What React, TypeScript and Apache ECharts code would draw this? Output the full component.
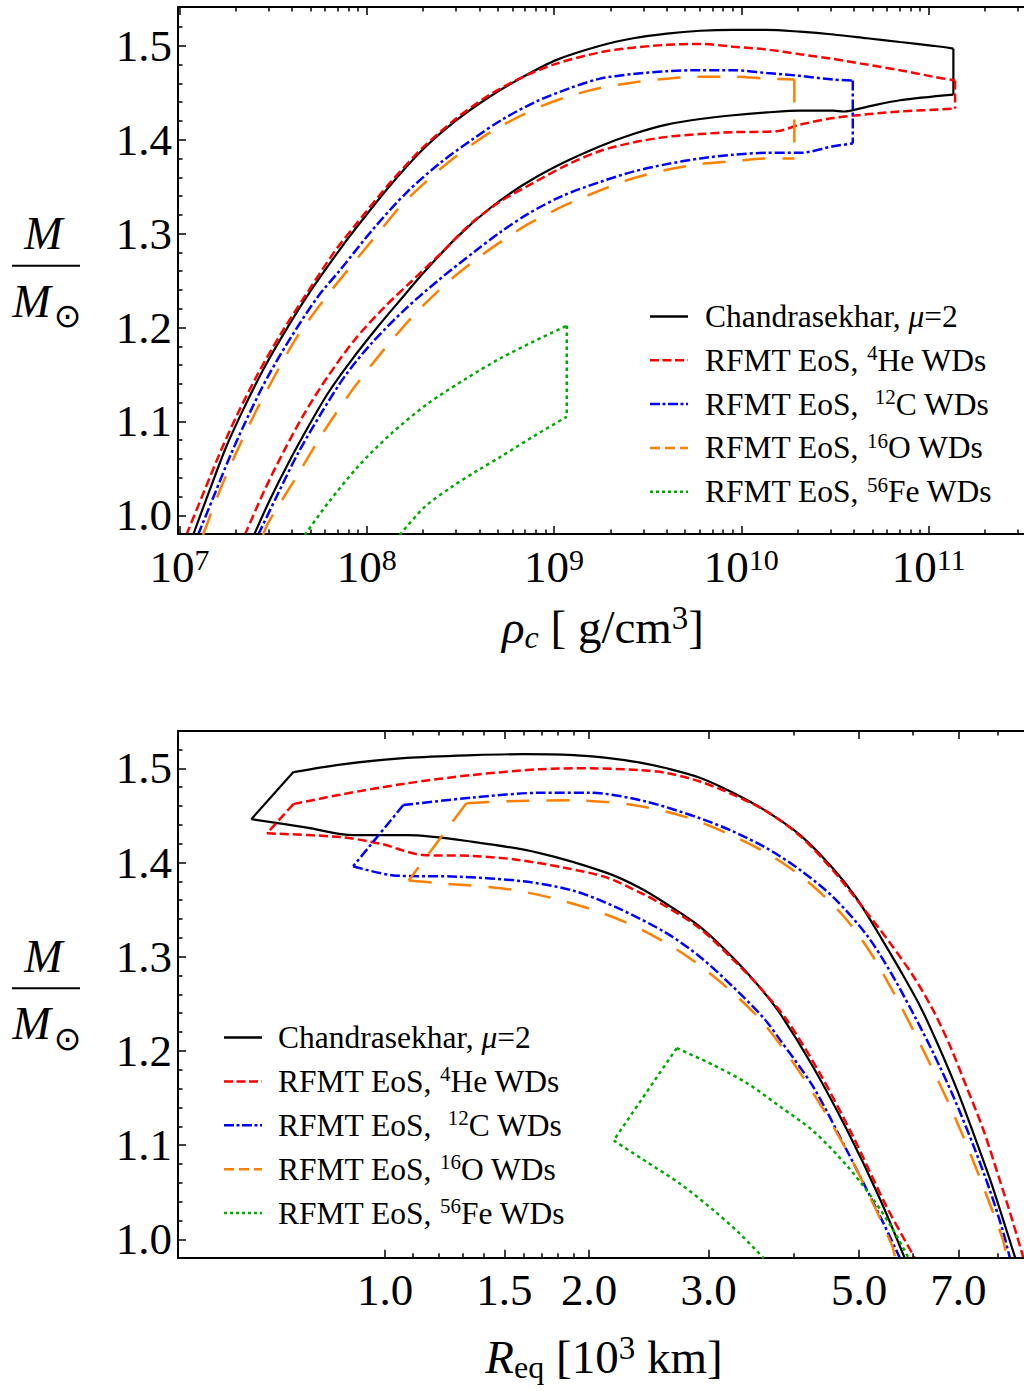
import React, { useEffect, useRef } from "react";
import * as echarts from "echarts";

const FONT = "Liberation Serif, Times New Roman, serif";

// ---------- Top panel: [log10(rho_c / g cm^-3), M/Msun] ----------
const chandraUpperRho = [
  [7.073, 0.979], [7.162, 1.027], [7.25, 1.073], [7.349, 1.116], [7.455, 1.158], [7.58, 1.201],
  [7.704, 1.24], [7.856, 1.283], [7.947, 1.307], [8.124, 1.351], [8.302, 1.39], [8.481, 1.421],
  [8.658, 1.446], [8.836, 1.467], [9.014, 1.485], [9.246, 1.5], [9.423, 1.508], [9.602, 1.513],
  [9.78, 1.516], [9.957, 1.517], [10.136, 1.517], [10.313, 1.515], [10.491, 1.512], [10.67, 1.508],
  [10.847, 1.504], [11.025, 1.5], [11.132, 1.497],
];
const chandraLowerRho = [
  [7.398, 0.979], [7.482, 1.016], [7.58, 1.055], [7.687, 1.094], [7.793, 1.13], [7.918, 1.165],
  [8.06, 1.201], [8.178, 1.229], [8.302, 1.258], [8.481, 1.296], [8.658, 1.327], [8.836, 1.352],
  [9.014, 1.372], [9.246, 1.393], [9.423, 1.406], [9.602, 1.416], [9.78, 1.422], [9.957, 1.426],
  [10.136, 1.429], [10.313, 1.431], [10.491, 1.431], [10.545, 1.43], [10.67, 1.435], [10.847, 1.442],
  [11.132, 1.448],
];
const heUpperRho = [
  [7.037, 0.979], [7.135, 1.027], [7.224, 1.07], [7.313, 1.109], [7.42, 1.151], [7.544, 1.194],
  [7.669, 1.233], [7.829, 1.281], [7.947, 1.311], [8.124, 1.354], [8.302, 1.392], [8.481, 1.423],
  [8.658, 1.448], [8.836, 1.467], [9.014, 1.481], [9.246, 1.493], [9.423, 1.498], [9.602, 1.501],
  [9.78, 1.502], [9.957, 1.499], [10.136, 1.496], [10.313, 1.491], [10.491, 1.486], [10.67, 1.48],
  [10.847, 1.474], [11.025, 1.467], [11.141, 1.463],
];
const heLowerRho = [
  [7.349, 0.979], [7.455, 1.027], [7.562, 1.07], [7.669, 1.109], [7.793, 1.148], [7.936, 1.187],
  [8.096, 1.222], [8.238, 1.249], [8.391, 1.278], [8.552, 1.31], [8.712, 1.334], [8.89, 1.354],
  [9.068, 1.373], [9.246, 1.388], [9.423, 1.397], [9.602, 1.403], [9.78, 1.406], [9.957, 1.408],
  [10.189, 1.409], [10.313, 1.416], [10.491, 1.423], [10.67, 1.427], [10.847, 1.43], [11.141, 1.433],
];
const cUpperRho = [
  [7.099, 0.979], [7.189, 1.023], [7.277, 1.066], [7.375, 1.109], [7.473, 1.148], [7.597, 1.19],
  [7.74, 1.233], [7.857, 1.261], [8.035, 1.305], [8.214, 1.344], [8.391, 1.375], [8.569, 1.401],
  [8.728, 1.422], [8.909, 1.441], [9.086, 1.455], [9.246, 1.465], [9.423, 1.47], [9.602, 1.473],
  [9.78, 1.474], [9.957, 1.474], [10.136, 1.471], [10.313, 1.468], [10.491, 1.464], [10.595, 1.463],
];
const cLowerRho = [
  [7.42, 0.979], [7.526, 1.023], [7.633, 1.066], [7.758, 1.109], [7.883, 1.148], [8.025, 1.183],
  [8.203, 1.219], [8.381, 1.25], [8.577, 1.281], [8.717, 1.302], [8.861, 1.321], [9.043, 1.34],
  [9.246, 1.355], [9.423, 1.366], [9.602, 1.374], [9.78, 1.38], [9.957, 1.384], [10.136, 1.386],
  [10.313, 1.386], [10.491, 1.393], [10.595, 1.396],
];
const oUpperRho = [
  [7.126, 0.979], [7.211, 1.024], [7.302, 1.066], [7.404, 1.109], [7.505, 1.147], [7.628, 1.19],
  [7.777, 1.231], [7.911, 1.264], [8.071, 1.303], [8.194, 1.332], [8.365, 1.364], [8.462, 1.38],
  [8.578, 1.397], [8.685, 1.411], [8.819, 1.425], [8.936, 1.436], [9.075, 1.446], [9.246, 1.455],
  [9.423, 1.461], [9.602, 1.465], [9.78, 1.467], [9.957, 1.467], [10.136, 1.465], [10.283, 1.464],
];
const oLowerRho = [
  [7.446, 0.979], [7.477, 0.993], [7.619, 1.039], [7.761, 1.086], [7.918, 1.132], [8.082, 1.174],
  [8.26, 1.215], [8.455, 1.252], [8.614, 1.277], [8.721, 1.292], [8.861, 1.31], [9.068, 1.331],
  [9.246, 1.346], [9.423, 1.359], [9.602, 1.368], [9.78, 1.374], [9.957, 1.377], [10.136, 1.38],
  [10.283, 1.38],
];
const feUpperRho = [
  [7.669, 0.979], [7.793, 1.013], [7.954, 1.052], [8.131, 1.087], [8.327, 1.119], [8.534, 1.146],
  [8.712, 1.167], [8.89, 1.185], [9.068, 1.202],
];
const feLowerRho = [
  [8.176, 0.979], [8.31, 1.009], [8.452, 1.03], [8.594, 1.048], [8.712, 1.062], [8.89, 1.084],
  [9.068, 1.105],
];

// ---------- Bottom panel: [log10(R_eq / 10^3 km), M/Msun] ----------
const chandraUpperR = [
  [-0.135, 1.496], [-0.066, 1.504], [0.032, 1.511], [0.13, 1.514], [0.204, 1.515], [0.278, 1.514],
  [0.327, 1.511], [0.376, 1.506], [0.415, 1.5], [0.464, 1.49], [0.513, 1.474], [0.563, 1.454],
  [0.612, 1.429], [0.661, 1.393], [0.696, 1.361], [0.732, 1.319], [0.759, 1.286], [0.789, 1.247],
  [0.816, 1.205], [0.843, 1.159], [0.867, 1.113], [0.892, 1.063], [0.911, 1.021], [0.929, 0.98],
];
const chandraLowerR = [
  [-0.197, 1.446], [-0.115, 1.437], [-0.047, 1.429], [0.032, 1.429], [0.13, 1.422], [0.228, 1.41],
  [0.327, 1.389], [0.376, 1.373], [0.415, 1.356], [0.464, 1.332], [0.513, 1.299], [0.553, 1.267],
  [0.582, 1.24], [0.631, 1.183], [0.681, 1.116], [0.73, 1.042], [0.766, 0.98],
];
const heUpperR = [
  [-0.135, 1.462], [-0.066, 1.472], [0.032, 1.484], [0.13, 1.493], [0.228, 1.499], [0.302, 1.5],
  [0.376, 1.498], [0.415, 1.495], [0.464, 1.486], [0.513, 1.472], [0.563, 1.454], [0.612, 1.428],
  [0.661, 1.391], [0.71, 1.347], [0.747, 1.312], [0.779, 1.279], [0.808, 1.243], [0.833, 1.205],
  [0.857, 1.162], [0.882, 1.116], [0.906, 1.063], [0.926, 1.017], [0.941, 0.98],
];
const heLowerR = [
  [-0.174, 1.431], [-0.066, 1.427], [-0.007, 1.42], [0.056, 1.408], [0.13, 1.407], [0.194, 1.403],
  [0.268, 1.394], [0.327, 1.384], [0.376, 1.368], [0.415, 1.353], [0.464, 1.33], [0.513, 1.297],
  [0.553, 1.267], [0.592, 1.233], [0.641, 1.176], [0.69, 1.109], [0.739, 1.035], [0.781, 0.98],
];
const cUpperR = [
  [0.027, 1.461], [0.13, 1.469], [0.228, 1.474], [0.302, 1.474], [0.383, 1.465], [0.464, 1.447],
  [0.513, 1.433], [0.563, 1.415], [0.612, 1.392], [0.661, 1.363], [0.71, 1.323], [0.744, 1.285],
  [0.779, 1.239], [0.808, 1.198], [0.838, 1.151], [0.867, 1.1], [0.892, 1.051], [0.911, 1.008],
  [0.921, 0.98],
];
const cLowerR = [
  [-0.047, 1.396], [0.017, 1.386], [0.106, 1.385], [0.204, 1.38], [0.278, 1.37], [0.342, 1.352],
  [0.415, 1.325], [0.464, 1.3], [0.513, 1.268], [0.558, 1.235], [0.582, 1.212], [0.631, 1.162],
  [0.681, 1.094], [0.73, 1.024], [0.759, 0.98],
];
const oUpperR = [
  [0.12, 1.463], [0.179, 1.465], [0.278, 1.466], [0.366, 1.461], [0.44, 1.449], [0.504, 1.431],
  [0.572, 1.406], [0.626, 1.378], [0.676, 1.343], [0.715, 1.305], [0.757, 1.252], [0.798, 1.194],
  [0.833, 1.141], [0.862, 1.092], [0.887, 1.046], [0.911, 0.999], [0.916, 0.98],
];
const oLowerR = [
  [0.035, 1.381], [0.081, 1.378], [0.179, 1.372], [0.242, 1.363], [0.314, 1.348], [0.383, 1.327],
  [0.448, 1.299], [0.506, 1.266], [0.556, 1.231], [0.604, 1.185], [0.645, 1.139], [0.683, 1.091],
  [0.716, 1.043], [0.747, 0.994], [0.752, 0.98],
];
const feUpperR = [
  [0.43, 1.203], [0.484, 1.185], [0.533, 1.166], [0.582, 1.141], [0.631, 1.115], [0.681, 1.078],
  [0.72, 1.042], [0.749, 1.01], [0.771, 0.981],
];
const feLowerR = [
  [0.337, 1.105], [0.386, 1.082], [0.435, 1.059], [0.484, 1.031], [0.523, 1.006], [0.558, 0.98],
];

// ---------- ticks / labels ----------
const rhoTickExponents = [7, 8, 9, 10, 11];
const rhoMinorMantissas = [2, 3, 4, 5, 6, 7, 8, 9];
const reqTickLabels = [1.0, 1.5, 2.0, 3.0, 5.0, 7.0];
const reqMinorTicks = [1.1, 1.2, 1.3, 1.4, 1.6, 1.7, 1.8, 1.9, 4.0, 6.0, 8.0];
const massTickLabels = [1.0, 1.1, 1.2, 1.3, 1.4, 1.5];
const massMinorTicks = [
  0.98, 1.02, 1.04, 1.06, 1.08, 1.12, 1.14, 1.16, 1.18, 1.22, 1.24, 1.26, 1.28, 1.32, 1.34, 1.36,
  1.38, 1.42, 1.44, 1.46, 1.48, 1.52,
];

const seriesNames = [
  "Chandrasekhar, μ=2",
  "RFMT EoS, 4He WDs",
  "RFMT EoS, 12C WDs",
  "RFMT EoS, 16O WDs",
  "RFMT EoS, 56Fe WDs",
];
const legendRich = [
  "{n|Chandrasekhar, }{i|μ}{n|=2}",
  "{n|RFMT EoS, }{s|4}{n|He WDs}",
  "{n|RFMT EoS,  }{s|12}{n|C WDs}",
  "{n|RFMT EoS, }{s|16}{n|O WDs}",
  "{n|RFMT EoS, }{s|56}{n|Fe WDs}",
];
const colors = ["#000000", "#ff0000", "#0000ff", "#ff8000", "#00aa00"];
const plotDash: any[] = ["solid", [9, 4], [10, 3, 3, 3], [23, 17], [3.5, 3.5]];
const legendDash: any[] = [null, [9, 3.5], [10, 2.5, 3, 2.5], [10, 5], [3, 3]];
const lineWidths = [2.2, 2.5, 2.5, 2.5, 2.5];

const topPairs = [
  [chandraUpperRho, chandraLowerRho],
  [heUpperRho, heLowerRho],
  [cUpperRho, cLowerRho],
  [oUpperRho, oLowerRho],
  [feUpperRho, feLowerRho],
];
const bottomPairs = [
  [chandraUpperR, chandraLowerR],
  [heUpperR, heLowerR],
  [cUpperR, cLowerR],
  [oUpperR, oLowerR],
  [feUpperR, feLowerR],
];

const tickStyle = { color: "#000", width: 1.5 };
const axisLineStyle = { color: "#000", width: 2 };

function frameXAxes(gridIndex: number, min: number, max: number, major: number[], minor: number[], formatter: any, rich: any) {
  const base = { type: "value", gridIndex, min, max, splitLine: { show: false }, z: 5 };
  return [
    {
      ...base, position: "bottom",
      axisLine: { show: true, onZero: false, lineStyle: axisLineStyle },
      axisTick: { show: true, inside: true, length: 8, customValues: major, lineStyle: tickStyle },
      axisLabel: {
        show: true, customValues: major, formatter, margin: 10, color: "#000",
        fontFamily: FONT, fontSize: 45, lineHeight: 45, rich, hideOverlap: false,
      },
    },
    {
      ...base, position: "bottom",
      axisLine: { show: false, onZero: false },
      axisTick: { show: true, inside: true, length: 4.5, customValues: minor, lineStyle: tickStyle },
      axisLabel: { show: false },
    },
    {
      ...base, position: "top",
      axisLine: { show: true, onZero: false, lineStyle: axisLineStyle },
      axisTick: { show: true, inside: true, length: 8, customValues: major, lineStyle: tickStyle },
      axisLabel: { show: false },
    },
    {
      ...base, position: "top",
      axisLine: { show: false, onZero: false },
      axisTick: { show: true, inside: true, length: 4.5, customValues: minor, lineStyle: tickStyle },
      axisLabel: { show: false },
    },
  ];
}

function frameYAxes(gridIndex: number, min: number, max: number) {
  const base = { type: "value", gridIndex, min, max, position: "left", splitLine: { show: false }, z: 5 };
  return [
    {
      ...base,
      axisLine: { show: true, onZero: false, lineStyle: axisLineStyle },
      axisTick: { show: true, inside: true, length: 8, customValues: massTickLabels, lineStyle: tickStyle },
      axisLabel: {
        show: true, customValues: massTickLabels, formatter: (v: number) => v.toFixed(1),
        margin: 6, color: "#000", fontFamily: FONT, fontSize: 45, lineHeight: 45, hideOverlap: false,
      },
    },
    {
      ...base,
      axisLine: { show: false, onZero: false },
      axisTick: { show: true, inside: true, length: 4.5, customValues: massMinorTicks, lineStyle: tickStyle },
      axisLabel: { show: false },
    },
  ];
}

function legendGraphics(lineX1: number, lineX2: number, textX: number, y0: number, dy: number) {
  const els: any[] = [];
  legendRich.forEach((t, i) => {
    const y = y0 + dy * i;
    els.push({
      type: "line",
      shape: { x1: lineX1, y1: y, x2: lineX2, y2: y },
      style: { stroke: colors[i], lineWidth: 2.5, lineDash: legendDash[i] || undefined },
      silent: true,
    });
    els.push({
      type: "text",
      x: textX, y,
      style: {
        text: t, fill: "#000", align: "left", verticalAlign: "middle",
        textAlign: "left", textVerticalAlign: "middle",
        fontFamily: FONT, fontSize: 31.5, lineHeight: 35,
        rich: {
          n: { fontFamily: FONT, fontSize: 31.5, lineHeight: 35, fill: "#000" },
          i: { fontFamily: FONT, fontSize: 31.5, lineHeight: 35, fontStyle: "italic", fill: "#000" },
          s: { fontFamily: FONT, fontSize: 21, lineHeight: 17, verticalAlign: "top", fill: "#000" },
        },
      },
      silent: true,
    });
  });
  return els;
}

function massTitle(yTop: number, yBar: number, yBottom: number, ySun: number) {
  const it = { fontFamily: FONT, fontSize: 46, fontStyle: "italic", fill: "#000" };
  const c = { align: "center", verticalAlign: "middle", textAlign: "center", textVerticalAlign: "middle" };
  return [
    { type: "text", x: 43.5, y: yTop, style: { text: "M", ...it, ...c }, silent: true },
    { type: "line", shape: { x1: 12, y1: yBar, x2: 80, y2: yBar }, style: { stroke: "#000", lineWidth: 2 }, silent: true },
    { type: "text", x: 31.7, y: yBottom, style: { text: "M", ...it, ...c }, silent: true },
    { type: "text", x: 67.5, y: ySun, style: { text: "⊙", fontFamily: "DejaVu Sans, sans-serif", fontSize: 33, fill: "#000", ...c }, silent: true },
  ];
}

function lineSeries(name: string, i: number, data: number[][], xi: number, yi: number, smooth: boolean) {
  return {
    name, type: "line", xAxisIndex: xi, yAxisIndex: yi, data,
    symbol: "none", showSymbol: false, clip: true, silent: true,
    smooth: smooth ? 0.3 : false,
    lineStyle: { color: colors[i], width: lineWidths[i], type: plotDash[i] },
    z: 2 + i,
  };
}

export default function App() {
  const ref = useRef<HTMLDivElement>(null);

  useEffect(() => {
    if (!ref.current) return;
    const chart = echarts.init(ref.current, null, { renderer: "svg" });

    const topX = frameXAxes(
      0, 6.9925, 11.509, rhoTickExponents,
      rhoTickExponents.flatMap((e) => rhoMinorMantissas.map((m) => e + Math.log10(m))),
      (v: number) => `{b|10}{s|${Math.round(v)}}`,
      {
        b: { fontFamily: FONT, fontSize: 45, lineHeight: 45, color: "#000" },
        s: { fontFamily: FONT, fontSize: 30, lineHeight: 21, verticalAlign: "top", color: "#000" },
      }
    );
    const botX = frameXAxes(
      1, -0.3051, 0.9418, reqTickLabels.map((v) => Math.log10(v)),
      reqMinorTicks.map((v) => Math.log10(v)),
      (v: number) => Math.pow(10, v).toFixed(1),
      undefined
    );
    const topY = frameYAxes(0, 0.9801, 1.5413);
    const botY = frameYAxes(1, 0.9805, 1.5396);

    const series: any[] = [];
    topPairs.forEach(([up, low], i) => {
      series.push(lineSeries(seriesNames[i], i, up, 0, 0, true));
      series.push(lineSeries(seriesNames[i], i, low, 0, 0, true));
      series.push(lineSeries(seriesNames[i], i, [up[up.length - 1], low[low.length - 1]], 0, 0, false));
    });
    bottomPairs.forEach(([up, low], i) => {
      series.push(lineSeries(seriesNames[i], i, up, 4, 2, true));
      series.push(lineSeries(seriesNames[i], i, low, 4, 2, true));
      series.push(lineSeries(seriesNames[i], i, [up[0], low[0]], 4, 2, false));
    });

    const titleRich = {
      r: { fontFamily: FONT, fontSize: 47, fontStyle: "italic", lineHeight: 52, fill: "#000" },
      sub: { fontFamily: FONT, fontSize: 32, fontStyle: "italic", lineHeight: 18, verticalAlign: "bottom", fill: "#000" },
      subr: { fontFamily: FONT, fontSize: 32, lineHeight: 18, verticalAlign: "bottom", fill: "#000" },
      n: { fontFamily: FONT, fontSize: 47, lineHeight: 52, fill: "#000" },
      sup: { fontFamily: FONT, fontSize: 33, lineHeight: 42, verticalAlign: "top", fill: "#000" },
    };
    const center = { align: "center", verticalAlign: "middle", textAlign: "center", textVerticalAlign: "middle" };

    const graphic: any[] = [
      ...massTitle(233, 265.7, 301.5, 315),
      ...massTitle(956.5, 988.3, 1023, 1038.5),
      {
        type: "text", x: 603, y: 627, silent: true,
        style: {
          text: "{r|ρ}{sub|c}{n| [ g/cm}{sup|3}{n|]}", fill: "#000", ...center,
          fontFamily: FONT, fontSize: 47, rich: titleRich,
        },
      },
      {
        type: "text", x: 604, y: 1357, silent: true,
        style: {
          text: "{r|R}{subr|eq}{n| [10}{sup|3}{n| km]}", fill: "#000", ...center,
          fontFamily: FONT, fontSize: 47, rich: titleRich,
        },
      },
      ...legendGraphics(650, 688, 705, 316.5, 43.8),
      ...legendGraphics(224, 262, 278, 1037.5, 43.9),
    ];

    chart.setOption({
      animation: false,
      backgroundColor: "#ffffff",
      grid: [
        { left: 178, top: 7, right: 0, height: 527, containLabel: false },
        { left: 178, top: 731, right: 0, height: 526.7, containLabel: false },
      ],
      xAxis: [...topX, ...botX],
      yAxis: [...topY, ...botY],
      series,
      graphic,
    });

    return () => chart.dispose();
  }, []);

  return (
    <div
      ref={ref}
      style={{ position: "absolute", left: 0, top: 0, width: 1024, height: 1391, background: "#fff" }}
    />
  );
}
